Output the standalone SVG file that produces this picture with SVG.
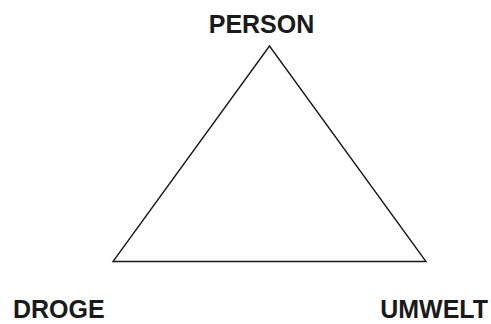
<svg xmlns="http://www.w3.org/2000/svg" width="491" height="324" viewBox="0 0 491 324">
<style>
.lbl{font-family:"Liberation Sans",Arial,sans-serif;font-weight:bold;font-size:25px;fill:#1a1a1a}
.edge{stroke:#1a1a1a;stroke-width:1.4;fill:none;stroke-linejoin:miter}
</style>
<rect width="491" height="324" fill="#fff"/>
<g id="connectors">
<polygon class="edge" points="269.5,46 113,261.5 426,261.5"/>
</g>
<g id="person"><text class="lbl" x="261.5" y="33" text-anchor="middle">PERSON</text></g>
<g id="droge"><text class="lbl" x="13" y="318">DROGE</text></g>
<g id="umwelt"><text class="lbl" x="488" y="318" text-anchor="end">UMWELT</text></g>
</svg>
